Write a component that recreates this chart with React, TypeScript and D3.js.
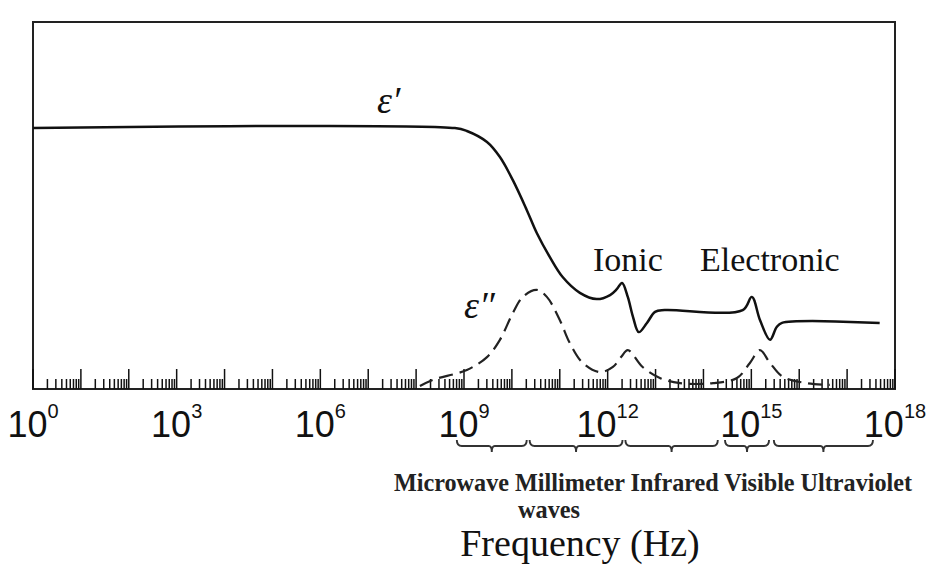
import React from 'react';
import * as d3 from 'd3';

const W = 929;
const H = 570;

// log10(frequency) and relative permittivity (arbitrary units) – real part
const epsRealLogF = [0, 8.81, 9.06, 9.48, 9.75, 10.02, 10.31, 10.52, 10.79, 11.06, 11.42, 11.77, 12.05, 12.19, 12.3, 12.42, 12.53, 12.65, 12.82, 12.99, 13.19, 14.82, 15.01, 15.18, 15.39, 15.53, 15.64, 17.68];
const epsRealVal = [7.11, 7.11, 7.03, 6.73, 6.32, 5.69, 4.88, 4.25, 3.6, 3.05, 2.62, 2.45, 2.56, 2.72, 2.89, 2.51, 1.96, 1.55, 1.8, 2.1, 2.15, 2.15, 2.51, 1.88, 1.34, 1.69, 1.8, 1.8];

// imaginary part (loss)
const epsImagLogF = [8.08, 8.35, 9.06, 9.48, 9.75, 10.02, 10.23, 10.52, 10.73, 11.0, 11.21, 11.48, 11.84, 12.11, 12.28, 12.42, 12.73, 13.09, 13.51, 14.2, 14.7, 14.97, 15.18, 15.39, 15.66, 16.16, 16.64];
const epsImagVal = [0.08, 0.25, 0.52, 0.87, 1.34, 2.07, 2.51, 2.7, 2.51, 1.88, 1.25, 0.71, 0.46, 0.6, 0.87, 1.06, 0.6, 0.3, 0.16, 0.16, 0.3, 0.71, 1.06, 0.71, 0.33, 0.16, 0.11];

const tickExponents = [0, 3, 6, 9, 12, 15, 18];
const bandNames = ['Microwave', 'Millimeter', 'Infrared', 'Visible', 'Ultraviolet'];
const bandStart = [8.85, 10.37, 12.37, 14.45, 15.47];
const bandEnd = [10.31, 12.31, 14.3, 15.37, 17.54];

const SERIF = 'Liberation Serif';
const SANS = 'Liberation Sans';

export default function App() {
  const left = 33, right = 895, top = 22, bottom = 389;
  const x = d3.scaleLog().domain([1, 1e18]).range([left, right]);
  const xl = (l: number) => x(Math.pow(10, l));
  const y = d3.scaleLinear().domain([0, 10]).range([bottom, top]);

  const realPts = epsRealLogF.map((f, i) => [f, epsRealVal[i]] as [number, number]);
  const imagPts = epsImagLogF.map((f, i) => [f, epsImagVal[i]] as [number, number]);
  const line = d3
    .line<[number, number]>()
    .x((d) => xl(d[0]))
    .y((d) => y(d[1]))
    .curve(d3.curveCatmullRom.alpha(0.5));

  const majors: number[] = d3.range(0, 19);
  const minors: number[] = [];
  for (let d = 0; d < 18; d++) for (let k = 2; k <= 9; k++) minors.push(k * Math.pow(10, d));

  const braceTop = 440, braceMid = 446, braceTip = 452;
  const bracePath = (a: number, b: number) => {
    const x0 = xl(a), x1 = xl(b), xc = (x0 + x1) / 2;
    return `M${x0},${braceTop} Q${x0},${braceMid} ${x0 + 5},${braceMid} L${xc - 3},${braceMid} Q${xc},${braceMid} ${xc},${braceTip} Q${xc},${braceMid} ${xc + 3},${braceMid} L${x1 - 5},${braceMid} Q${x1},${braceMid} ${x1},${braceTop}`;
  };

  return (
    <svg width={W} height={H} style={{ position: 'absolute', left: 0, top: 0, background: '#fff' }}>
      <rect x={left} y={top} width={right - left} height={bottom - top} fill="none" stroke="#222" strokeWidth={2} />

      <g stroke="#111" strokeWidth={1.5}>
        {majors.map((d) => (
          <line key={'M' + d} x1={xl(d)} x2={xl(d)} y1={bottom} y2={bottom - 20} />
        ))}
        {minors.map((v, i) => (
          <line key={'m' + i} x1={x(v)} x2={x(v)} y1={bottom} y2={bottom - 10} />
        ))}
      </g>

      <path d={line(realPts) || ''} fill="none" stroke="#111" strokeWidth={2.5} strokeLinejoin="round" />
      <path d={line(imagPts) || ''} fill="none" stroke="#222" strokeWidth={2.2} strokeDasharray="14 7" />

      <text x={377} y={113} fontFamily={SERIF} fontStyle="italic" fontSize={38} fill="#111">ε′</text>
      <text x={464} y={318} fontFamily={SERIF} fontStyle="italic" fontSize={38} fill="#111">ε″</text>
      <text x={593} y={271} fontFamily={SERIF} fontSize={34} fill="#111">Ionic</text>
      <text x={700} y={271} fontFamily={SERIF} fontSize={34} fill="#111">Electronic</text>

      {tickExponents.map((e) => (
        <text key={e} x={xl(e)} y={437} textAnchor="middle" fontFamily={SANS} fontSize={36} fill="#111">
          10
          <tspan dy={-19} fontSize={20}>{e}</tspan>
        </text>
      ))}

      <g fill="none" stroke="#333" strokeWidth={1.9}>
        {bandNames.map((n, i) => (
          <path key={n} d={bracePath(bandStart[i], bandEnd[i])} />
        ))}
      </g>

      <text x={394} y={491} fontFamily={SERIF} fontWeight="bold" fontSize={25} fill="#222" textLength={518} lengthAdjust="spacingAndGlyphs">
        {bandNames.join(' ')}
      </text>
      <text x={518} y={518} fontFamily={SERIF} fontWeight="bold" fontSize={25} fill="#222" textLength={62} lengthAdjust="spacingAndGlyphs">waves</text>

      <text x={580} y={556} textAnchor="middle" fontFamily={SERIF} fontSize={38} fill="#111">Frequency (Hz)</text>
    </svg>
  );
}
